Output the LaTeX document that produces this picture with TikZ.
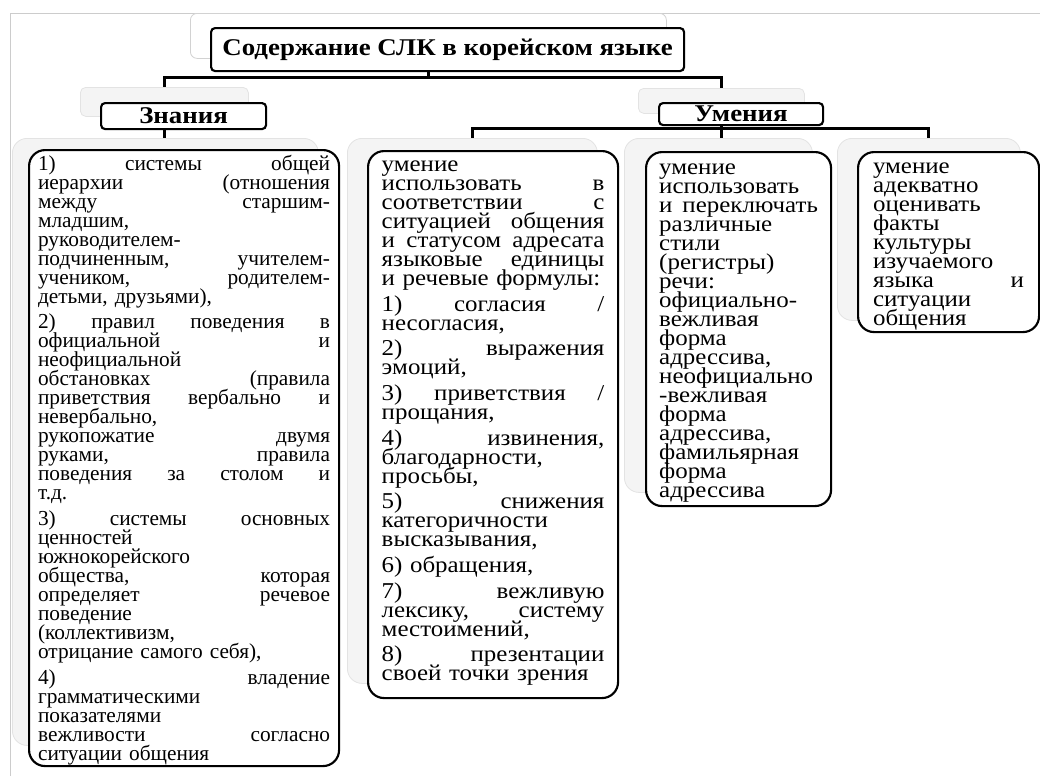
\documentclass[tikz,border=0pt]{standalone}
\usepackage{fontspec}
\setmainfont{Liberation Serif}
\newfontfamily\headfont{Liberation Serif}[FakeStretch=1.12]
\newfontfamily\wideserif{Liberation Serif}[FakeStretch=1.1]
\usetikzlibrary{positioning,calc}
\newcommand{\jline}[1]{\par\noindent\hbox to\cw{\spaceskip=.25em plus 1fil\relax #1}\par}
\newcommand{\rline}[1]{\par\noindent\hbox{#1}\par}
\newcommand{\pgap}{\par\vskip 5pt}

\begin{document}
\begin{tikzpicture}[x=0.75pt, y=-0.75pt, frame/.style={draw=gray!40, line width=0.6pt}, shade/.style={draw=gray!22, fill=gray!9, rounded corners=11pt, line width=0.6pt, anchor=north west, inner sep=0pt}, head/.style={draw, line width=1.6pt, rounded corners=3pt, fill=white, anchor=north west, inner sep=0pt, font=\headfont\bfseries\fontsize{18}{18}\selectfont}, card/.style={draw, line width=1.6pt, rounded corners=12pt, fill=white, anchor=north west, inner sep=0pt, text width=#1, execute at begin node={\def\cw{#1}\lineskiplimit=-20pt\lineskip=0pt}, font=\fontsize{16}{14.25}\selectfont}, wide/.style={font=\wideserif\fontsize{17}{14.25}\selectfont}, conn/.style={line width=2.2pt}]
\useasboundingbox (0,0) rectangle (1040,776);
\draw[frame] (10,776) -- (10,13) -- (1040,13);
% shadow shapes
\node[shade, fill=white, draw=gray!35, rounded corners=5pt, minimum width=357pt, minimum height=33.75pt] (tsh) at (190,13) {};
\node[shade, rounded corners=4pt, minimum width=126pt, minimum height=21.75pt] (zsh) at (80,87) {};
\node[shade, rounded corners=4pt, minimum width=124.5pt, minimum height=18.75pt] (ush) at (638,88) {};
\node[shade, minimum width=229.5pt, minimum height=455.25pt] (s1) at (12,138) {};
\node[shade, minimum width=187.5pt, minimum height=408.75pt] (s2) at (347,138) {};
\node[shade, minimum width=141pt, minimum height=265.5pt] (s3) at (624,138) {};
\node[shade, minimum width=137.25pt, minimum height=136.5pt] (s4) at (837,138) {};
% connectors
\draw[conn] (tsh.south) -- ++(0,19) -| (zsh.north); \draw[conn] (tsh.south) -- ++(0,19) -| (ush.north);
\draw[conn] (zsh.south) -- (zsh.south |- s1.north);
\draw[conn] (ush.south) -- ++(0,15) -| (s2.north); \draw[conn] (ush.south) -- ++(0,15) -| (s4.north); \draw[conn] (ush.south) -- (ush.south |- s3.north);
% boxes
\node[head, minimum width=354.75pt, minimum height=32.25pt] (title) at (210,27) {Содержание СЛК в корейском языке};
\node[head, minimum width=123.75pt, minimum height=19.5pt] (know) at (100,102) {Знания};
\node[head, minimum width=123pt, minimum height=16.5pt] (skill) at (658,102) {Умения};
\node[card=219pt, minimum width=232.5pt, minimum height=462pt] (b1) at (28,149) {\jline{1) системы общей}\jline{иерархии (отношения}\jline{между старшим-}\rline{младшим,}\rline{руководителем-}\jline{подчиненным, учителем-}\jline{учеником, родителем-}\rline{детьми, друзьями),}\pgap
\jline{2) правил поведения в}\jline{официальной и}\rline{неофициальной}\jline{обстановках (правила}\jline{приветствия вербально и}\rline{невербально,}\jline{рукопожатие двумя}\jline{руками, правила}\jline{поведения за столом и}\rline{т.д.}\pgap
\jline{3) системы основных}\rline{ценностей}\rline{южнокорейского}\jline{общества, которая}\jline{определяет речевое}\rline{поведение}\rline{(коллективизм,}\rline{отрицание самого себя),}\pgap
\jline{4) владение}\rline{грамматическими}\rline{показателями}\jline{вежливости согласно}\rline{ситуации общения}};
\node[card=167pt, wide, minimum width=187.5pt, minimum height=410.25pt] (b2) at (367,150) {\rline{умение}\jline{использовать в}\jline{соответствии с}\jline{ситуацией общения}\jline{и статусом адресата}\jline{языковые единицы}\rline{и речевые формулы:}\pgap
\jline{1) согласия /}\rline{несогласия,}\pgap
\jline{2) выражения}\rline{эмоций,}\pgap
\jline{3) приветствия /}\rline{прощания,}\pgap
\jline{4) извинения,}\rline{благодарности,}\rline{просьбы,}\pgap
\jline{5) снижения}\rline{категоричности}\rline{высказывания,}\pgap
\rline{6) обращения,}\pgap
\jline{7) вежливую}\jline{лексику, систему}\rline{местоимений,}\pgap
\jline{8) презентации}\rline{своей точки зрения\vrule width 0pt depth 12pt}};
\node[card=119pt, wide, minimum width=138.75pt, minimum height=265.5pt] (b3) at (645,151) {\rline{умение}\rline{использовать}\jline{и переключать}\rline{различные}\rline{стили}\rline{(регистры)}\rline{речи:}\rline{официально-}\rline{вежливая}\rline{форма}\rline{адрессива,}\rline{неофициально}\rline{-вежливая}\rline{форма}\rline{адрессива,}\rline{фамильярная}\rline{форма}\rline{адрессива}};
\node[card=113.25pt, wide, minimum width=135.75pt, minimum height=135pt] (b4) at (857,151) {\rline{умение}\rline{адекватно}\rline{оценивать}\rline{факты}\rline{культуры}\rline{изучаемого}\jline{языка и}\rline{ситуации}\rline{общения}};
\end{tikzpicture}
\end{document}
